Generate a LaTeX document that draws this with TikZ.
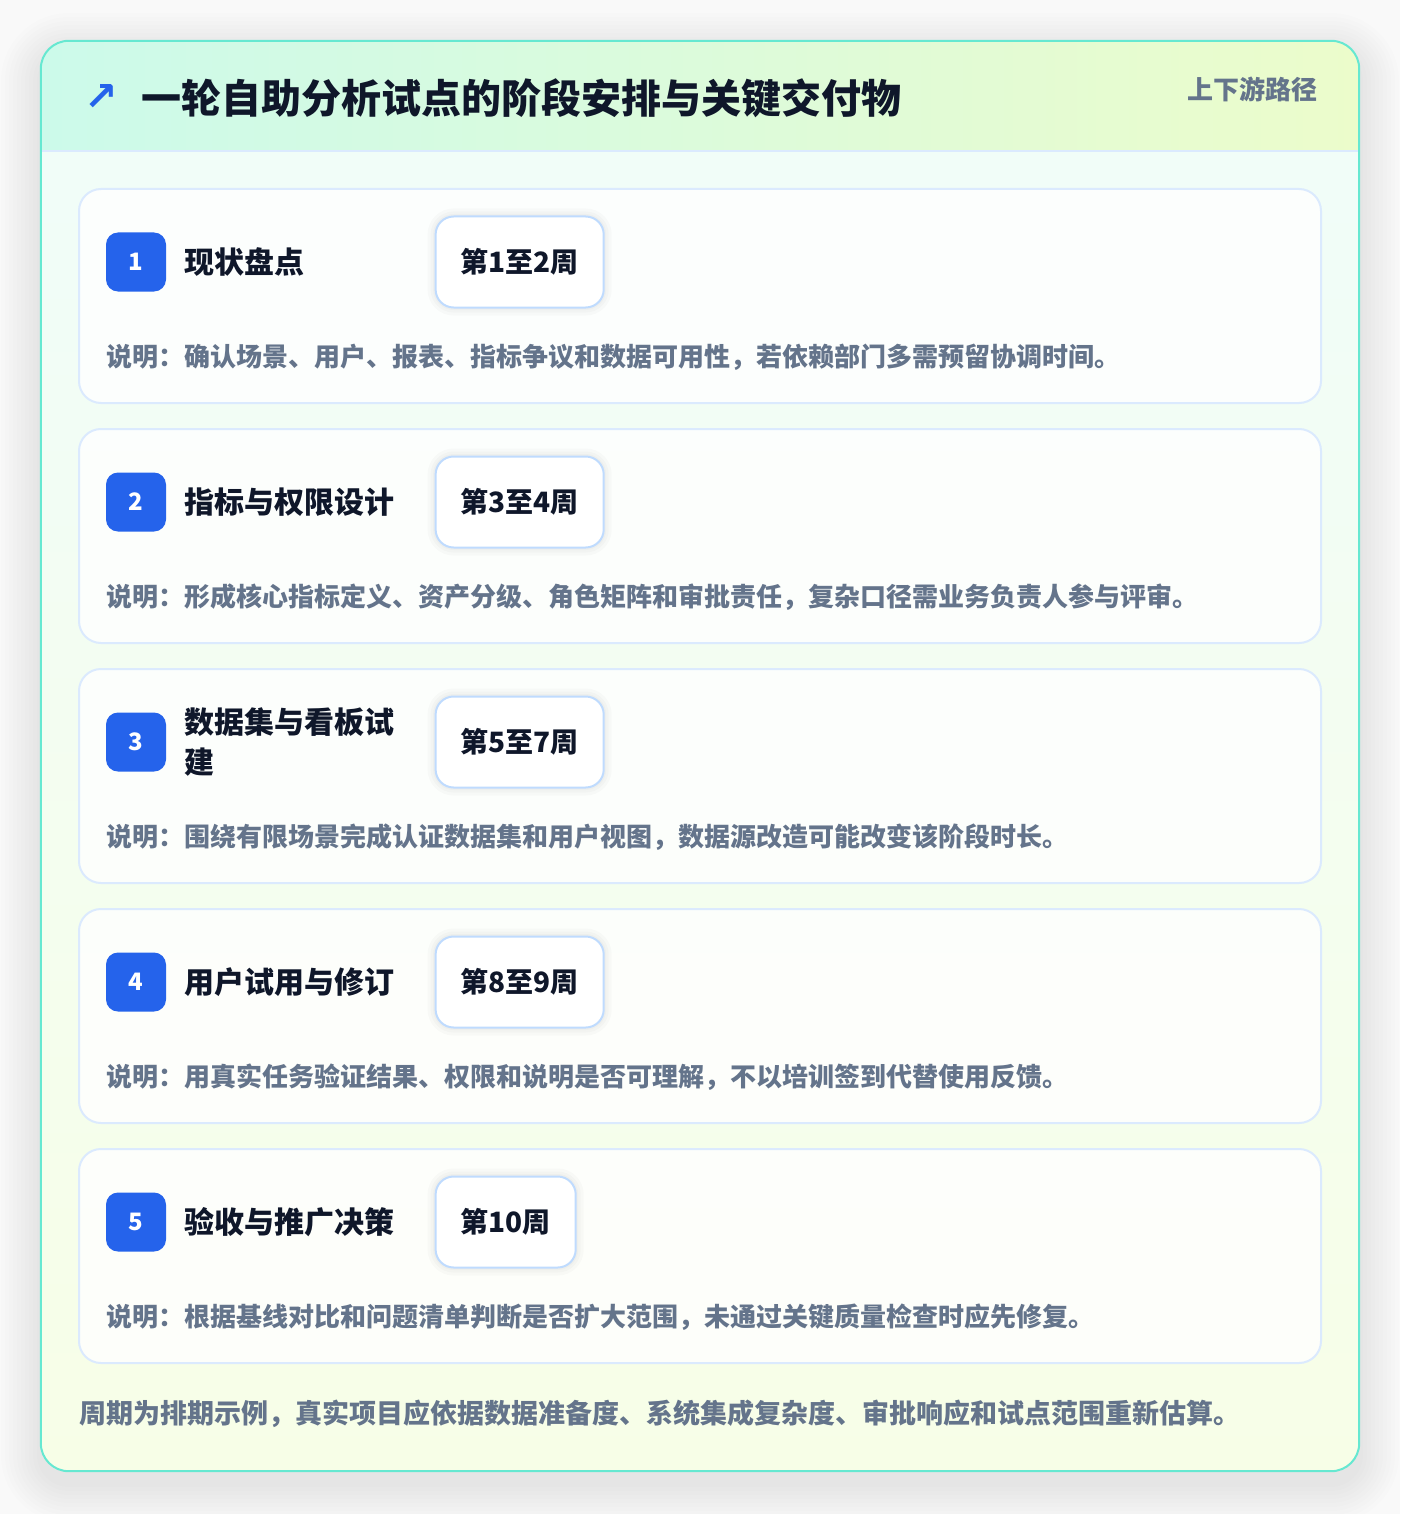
\documentclass[tikz,border=0pt]{standalone}
\usepackage{fontspec}
\setmainfont{Noto Sans CJK SC}
\newfontfamily\symfont{DejaVu Sans}
\usetikzlibrary{positioning}
\definecolor{mblue}{rgb}{0.145, 0.388, 0.922}
\definecolor{mink}{rgb}{0.059, 0.090, 0.165}
\definecolor{mgray}{rgb}{0.392, 0.455, 0.545}
\definecolor{mline}{rgb}{0.859, 0.918, 0.996}
\definecolor{mpill}{rgb}{0.749, 0.859, 0.996}
\definecolor{mteal}{rgb}{0.400, 0.910, 0.820}
\definecolor{mmint}{rgb}{0.800, 0.980, 0.920}
\definecolor{mlime}{rgb}{0.925, 0.988, 0.796}
\definecolor{mbodytop}{rgb}{0.941, 0.992, 0.980}
\definecolor{mbodybot}{rgb}{0.969, 0.996, 0.906}
\definecolor{mpage}{rgb}{0.975, 0.975, 0.978}

\tikzset{
  frame/.style={shade, top color=mbodytop, bottom color=mbodybot, rounded corners=28pt,
    minimum width=1318pt, minimum height=1430pt, inner sep=0pt},
  card/.style={draw=mline, line width=2pt, fill=white, fill opacity=0.8, rounded corners=22pt,
    minimum width=1242pt, minimum height=214pt, inner sep=0pt},
  badge/.style={fill=mblue, text=white, rounded corners=12pt, minimum width=60pt,
    minimum height=59pt, inner sep=0pt, font=\bfseries\fontsize{24}{28}\selectfont},
  stagename/.style={text=mink, text width=211pt, align=left, inner sep=0pt,
    font=\bfseries\fontsize{30}{40}\selectfont},
  weekpill/.style={draw=mpill, line width=2pt, fill=white, rounded corners=18pt,
    minimum height=91pt, inner xsep=25pt, text=mink, font=\bfseries\fontsize{28}{32}\selectfont,
    preaction={draw=black, draw opacity=0.018, line width=16pt},
    preaction={draw=black, draw opacity=0.018, line width=10pt},
    preaction={draw=black, draw opacity=0.018, line width=5pt}},
  note/.style={anchor=west, inner sep=0pt, text=mgray, font=\bfseries\fontsize{26}{30}\selectfont},
}

\begin{document}
\begin{tikzpicture}[x=1pt, y=-1pt]
      \useasboundingbox (0,0) rectangle (1400,1514);
      \fill [mpage] (0,0) rectangle (1400,1514);

      % soft shadow under the panel
      \foreach \s in {4,8,...,40}
        \fill [black, opacity=0.006, rounded corners=28pt+\s pt] (41-\s,53-\s) rectangle (1359+\s,1483+\s);

      % outer panel with header band
      \node [frame] (frame) at (700,756) {};
      \begin{scope}
        \clip [rounded corners=28pt] (41,41) rectangle (1359,1471);
        \shade [left color=mmint, right color=mlime] (41,41) rectangle (1359,151);
      \end{scope}
      \draw [line width=1.5pt, mline] (42,151) -- (1358,151);
      \draw [line width=2pt, mteal, rounded corners=28pt] (frame.north west) rectangle (frame.south east);

      \node [anchor=west, inner sep=0pt, text=mink, font=\bfseries\fontsize{40}{48}\selectfont] (heading) at (141,98) {一轮自助分析试点的阶段安排与关键交付物};
      \node [left=23pt of heading, inner sep=0pt, text=mblue, font=\symfont\bfseries\fontsize{40}{44}\selectfont] (arrowsign) {↗};
      \node [anchor=east, inner sep=0pt, text=mgray, font=\bfseries\fontsize{26}{30}\selectfont] (pathlink) at (1318,89) {上下游路径};

      % stage 1
      \node [card] (c1) at (700,296) {};
      \node [badge] (b1) at (136,262) {1};
      \node [stagename, right=18pt of b1] (t1) {现状盘点};
      \node [weekpill, right=39pt of t1] (w1) {第1至2周};
      \node [note] (d1) at (106,357) {说明：确认场景、用户、报表、指标争议和数据可用性，若依赖部门多需预留协调时间。};

      % stage 2
      \node [card] (c2) at (700,536) {};
      \node [badge] (b2) at (136,502) {2};
      \node [stagename, right=18pt of b2] (t2) {指标与权限设计};
      \node [weekpill, right=39pt of t2] (w2) {第3至4周};
      \node [note] (d2) at (106,597) {说明：形成核心指标定义、资产分级、角色矩阵和审批责任，复杂口径需业务负责人参与评审。};

      % stage 3
      \node [card] (c3) at (700,776) {};
      \node [badge] (b3) at (136,742) {3};
      \node [stagename, right=18pt of b3] (t3) {数据集与看板试\\建};
      \node [weekpill, right=39pt of t3] (w3) {第5至7周};
      \node [note] (d3) at (106,837) {说明：围绕有限场景完成认证数据集和用户视图，数据源改造可能改变该阶段时长。};

      % stage 4
      \node [card] (c4) at (700,1016) {};
      \node [badge] (b4) at (136,982) {4};
      \node [stagename, right=18pt of b4] (t4) {用户试用与修订};
      \node [weekpill, right=39pt of t4] (w4) {第8至9周};
      \node [note] (d4) at (106,1077) {说明：用真实任务验证结果、权限和说明是否可理解，不以培训签到代替使用反馈。};

      % stage 5
      \node [card] (c5) at (700,1256) {};
      \node [badge] (b5) at (136,1222) {5};
      \node [stagename, right=18pt of b5] (t5) {验收与推广决策};
      \node [weekpill, right=39pt of t5] (w5) {第10周};
      \node [note] (d5) at (106,1317) {说明：根据基线对比和问题清单判断是否扩大范围，未通过关键质量检查时应先修复。};

      \node [anchor=west, inner sep=0pt, text=mgray, font=\bfseries\fontsize{27}{30}\selectfont] (closing) at (79,1414) {周期为排期示例，真实项目应依据数据准备度、系统集成复杂度、审批响应和试点范围重新估算。};
\end{tikzpicture}
\end{document}
